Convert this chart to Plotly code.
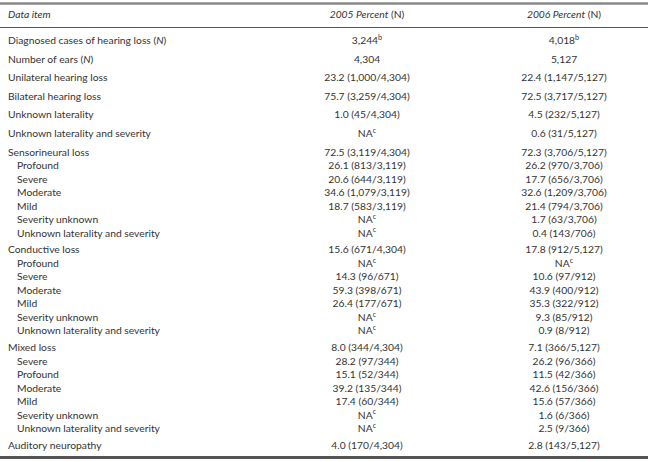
import plotly.graph_objects as go

# ---- data ----
headers = ["<i>Data item</i>", "<i>2005 Percent</i> (N)", "<i>2006 Percent</i> (N)"]

items = [
    "Diagnosed cases of hearing loss (<i>N</i>)",
    "Number of ears (<i>N</i>)",
    "Unilateral hearing loss",
    "Bilateral hearing loss",
    "Unknown laterality",
    "Unknown laterality and severity",
    "Sensorineural loss",
    "Profound",
    "Severe",
    "Moderate",
    "Mild",
    "Severity unknown",
    "Unknown laterality and severity",
    "Conductive loss",
    "Profound",
    "Severe",
    "Moderate",
    "Mild",
    "Severity unknown",
    "Unknown laterality and severity",
    "Mixed loss",
    "Severe",
    "Profound",
    "Moderate",
    "Mild",
    "Severity unknown",
    "Unknown laterality and severity",
    "Auditory neuropathy",
]

sub_row = [0, 0, 0, 0, 0, 0,
           0, 1, 1, 1, 1, 1, 1,
           0, 1, 1, 1, 1, 1, 1,
           0, 1, 1, 1, 1, 1, 1,
           0]

NA = "NA<sup>c</sup>"
values_2005 = [
    "3,244<sup>b</sup>", "4,304", "23.2 (1,000/4,304)", "75.7 (3,259/4,304)",
    "1.0 (45/4,304)", NA,
    "72.5 (3,119/4,304)", "26.1 (813/3,119)", "20.6 (644/3,119)",
    "34.6 (1,079/3,119)", "18.7 (583/3,119)", NA, NA,
    "15.6 (671/4,304)", NA, "14.3 (96/671)", "59.3 (398/671)",
    "26.4 (177/671)", NA, NA,
    "8.0 (344/4,304)", "28.2 (97/344)", "15.1 (52/344)", "39.2 (135/344)",
    "17.4 (60/344)", NA, NA,
    "4.0 (170/4,304)",
]
values_2006 = [
    "4,018<sup>b</sup>", "5,127", "22.4 (1,147/5,127)", "72.5 (3,717/5,127)",
    "4.5 (232/5,127)", "0.6 (31/5,127)",
    "72.3 (3,706/5,127)", "26.2 (970/3,706)", "17.7 (656/3,706)",
    "32.6 (1,209/3,706)", "21.4 (794/3,706)", "1.7 (63/3,706)", "0.4 (143/706)",
    "17.8 (912/5,127)", NA, "10.6 (97/912)", "43.9 (400/912)",
    "35.3 (322/912)", "9.3 (85/912)", "0.9 (8/912)",
    "7.1 (366/5,127)", "26.2 (96/366)", "11.5 (42/366)", "42.6 (156/366)",
    "15.6 (57/366)", "1.6 (6/366)", "2.5 (9/366)",
    "2.8 (143/5,127)",
]

# ---- layout of rows (pixel space) ----
W, H = 648, 462
y_first = 41.5
gap_top = 18.6
gap_sub = 13.5
gap_group = 16.8

ys = []
y = y_first
for i, s in enumerate(sub_row):
    if i > 0:
        if s == 1:
            y += gap_sub
        elif sub_row[i - 1] == 1:
            y += gap_group
        else:
            y += gap_top
    ys.append(y)

x_label = 8
x_indent = 17
x_c1 = 367
x_c2 = 564

FONT = "Lato, 'Open Sans', sans-serif"
TXT = "#333333"
FS = 10.3

fig = go.Figure()

label_x = [x_indent if s else x_label for s in sub_row]
fig.add_trace(go.Scatter(x=label_x, y=ys, mode="text", text=items,
                         textposition="middle right",
                         textfont=dict(family=FONT, size=FS, color=TXT),
                         hoverinfo="skip", showlegend=False))
fig.add_trace(go.Scatter(x=[x_c1] * len(ys), y=ys, mode="text", text=values_2005,
                         textposition="middle center",
                         textfont=dict(family=FONT, size=FS, color=TXT),
                         hoverinfo="skip", showlegend=False))
fig.add_trace(go.Scatter(x=[x_c2] * len(ys), y=ys, mode="text", text=values_2006,
                         textposition="middle center",
                         textfont=dict(family=FONT, size=FS, color=TXT),
                         hoverinfo="skip", showlegend=False))

# header
y_head = 15
fig.add_trace(go.Scatter(x=[x_label, x_c1, x_c2], y=[y_head] * 3, mode="text",
                         text=headers,
                         textposition=["middle right", "middle center", "middle center"],
                         textfont=dict(family=FONT, size=FS, color=TXT),
                         hoverinfo="skip", showlegend=False))

shapes = [
    dict(type="line", xref="x", yref="y", x0=0, x1=W, y0=3.5, y1=3.5,
         line=dict(color="#8a8a8a", width=2.5)),
    dict(type="line", xref="x", yref="y", x0=0, x1=W, y0=27.5, y1=27.5,
         line=dict(color="#555555", width=1)),
    dict(type="line", xref="x", yref="y", x0=0, x1=W, y0=457.5, y1=457.5,
         line=dict(color="#555555", width=3)),
]

fig.update_layout(
    width=W, height=H,
    margin=dict(l=0, r=0, t=0, b=0),
    paper_bgcolor="white", plot_bgcolor="white",
    xaxis=dict(range=[0, W], visible=False, fixedrange=True),
    yaxis=dict(range=[H, 0], visible=False, fixedrange=True),
    shapes=shapes,
)

fig.write_html("out.html",
               config={"displayModeBar": False, "staticPlot": True},
               post_script="document.body.style.margin='0px';"
                           "document.body.style.overflow='hidden';"
                           "document.documentElement.style.overflow='hidden';"
                           "document.documentElement.style.scrollbarWidth='none';"
                           "document.body.style.height='462px';"
                           "document.body.style.background='white';")
